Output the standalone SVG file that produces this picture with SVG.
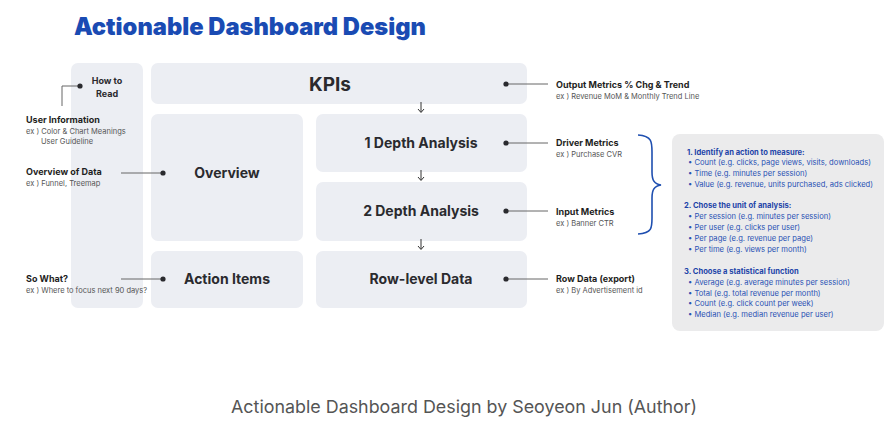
<svg xmlns="http://www.w3.org/2000/svg" width="896" height="422" viewBox="0 0 896 422">
<defs>
<style>
.box{fill:#eceef3}
.panel{fill:#ebebec}
.t{font-family:Inter,"Noto Sans",sans-serif;font-weight:700;fill:#2a2a2e;text-anchor:middle}
.lb{font-family:Inter,"Noto Sans",sans-serif;font-weight:700;fill:#1e1e22;font-size:9px}
.sb{font-family:Inter,"Noto Sans",sans-serif;fill:#555;font-size:7.5px}
.pb{font-family:Inter,"Noto Sans",sans-serif;font-weight:700;fill:#1d44a8;font-size:7.6px}
.pi{font-family:Inter,"Noto Sans",sans-serif;fill:#2a52b4;font-size:7.6px}
.ln{stroke:#666;stroke-width:1;fill:none}
.dot{fill:#2a2a2e}
.ar{stroke:#333;stroke-width:1;fill:none}
</style>
</defs>
<rect width="896" height="422" fill="#ffffff"/>
<text x="74" y="35" font-family="Inter,'Noto Sans',sans-serif" font-weight="900" font-size="24" fill="#1a4bb3" textLength="352" lengthAdjust="spacingAndGlyphs">Actionable Dashboard Design</text>

<g id="how-to-read">
<rect class="box" x="71" y="63" width="72" height="245" rx="7"/>
<text class="t" x="107" y="84" font-size="9">How to</text>
<text class="t" x="107" y="97" font-size="9">Read</text>
</g>
<g id="kpis">
<rect class="box" x="151" y="63" width="376" height="41" rx="7"/>
<text class="t" x="330" y="91" font-size="19">KPIs</text>
</g>
<g id="overview">
<rect class="box" x="151" y="114" width="152" height="127" rx="7"/>
<text class="t" x="227" y="178" font-size="14">Overview</text>
</g>
<g id="action-items">
<rect class="box" x="151" y="251" width="152" height="57" rx="7"/>
<text class="t" x="227" y="284" font-size="14">Action Items</text>
</g>
<g id="depth1">
<rect class="box" x="316" y="114" width="211" height="58" rx="7"/>
<text class="t" x="421" y="148" font-size="14">1 Depth Analysis</text>
</g>
<g id="depth2">
<rect class="box" x="316" y="182" width="211" height="59" rx="7"/>
<text class="t" x="421" y="216" font-size="14">2 Depth Analysis</text>
</g>
<g id="row-level">
<rect class="box" x="316" y="251" width="211" height="57" rx="7"/>
<text class="t" x="421" y="284" font-size="14">Row-level Data</text>
</g>

<g id="connectors">
<path class="ln" d="M80 86 H62 V106"/>
<path class="ln" d="M121 173 H163"/>
<path class="ln" d="M121 279 H163"/>
<path class="ln" d="M506 84 H548"/>
<path class="ln" d="M506 143 H548"/>
<path class="ln" d="M506 211 H548"/>
<path class="ln" d="M506 279 H548"/>
<circle class="dot" cx="80" cy="86" r="2.6"/>
<circle class="dot" cx="163" cy="173" r="2.6"/>
<circle class="dot" cx="163" cy="279" r="2.6"/>
<circle class="dot" cx="506" cy="84" r="2.6"/>
<circle class="dot" cx="506" cy="143" r="2.6"/>
<circle class="dot" cx="506" cy="211" r="2.6"/>
<circle class="dot" cx="506" cy="279" r="2.6"/>
<path class="ar" d="M421 102 V112 M418 109 L421 112.5 L424 109"/>
<path class="ar" d="M421 170 V180 M418 177 L421 180.5 L424 177"/>
<path class="ar" d="M421 239 V249 M418 246 L421 249.5 L424 246"/>
<path d="M638 135 C652 136 652 142 652 152 V172 C652 180 654 184 661 185 C654 186 652 190 652 198 V218 C652 228 652 233 638 234" fill="none" stroke="#1f4fb0" stroke-width="1.6"/>
</g>

<g id="left-labels">
<text class="lb" x="26" y="123">User Information</text>
<text class="sb" x="26" y="134">ex ) Color &amp; Chart Meanings</text>
<text class="sb" x="41" y="144">User Guideline</text>
<text class="lb" x="26" y="175">Overview of Data</text>
<text class="sb" x="26" y="186">ex ) Funnel, Treemap</text>
<text class="lb" x="26" y="282">So What?</text>
<text class="sb" x="26" y="293">ex ) Where to focus next 90 days?</text>
</g>
<g id="right-labels">
<text class="lb" x="556" y="88">Output Metrics % Chg &amp; Trend</text>
<text class="sb" x="556" y="99">ex ) Revenue MoM &amp; Monthly Trend Line</text>
<text class="lb" x="556" y="146">Driver Metrics</text>
<text class="sb" x="556" y="157">ex ) Purchase CVR</text>
<text class="lb" x="556" y="215">Input Metrics</text>
<text class="sb" x="556" y="226">ex ) Banner CTR</text>
<text class="lb" x="556" y="282">Row Data (export)</text>
<text class="sb" x="556" y="293">ex ) By Advertisement id</text>
</g>

<g id="metric-panel">
<rect class="panel" x="672" y="134" width="212" height="197" rx="8"/>
<text class="pb" x="687" y="155">1. Identify an action to measure:</text>
<text class="pi" x="688" y="165">•  Count (e.g. clicks, page views, visits, downloads)</text>
<text class="pi" x="688" y="176">•  Time (e.g. minutes per session)</text>
<text class="pi" x="688" y="187">•  Value (e.g. revenue, units purchased, ads clicked)</text>
<text class="pb" x="684" y="208">2. Chose the unit of analysis:</text>
<text class="pi" x="688" y="219">•  Per session (e.g. minutes per session)</text>
<text class="pi" x="688" y="230">•  Per user (e.g. clicks per user)</text>
<text class="pi" x="688" y="241">•  Per page (e.g. revenue per page)</text>
<text class="pi" x="688" y="252">•  Per time (e.g. views per month)</text>
<text class="pb" x="684" y="274">3. Choose a statistical function</text>
<text class="pi" x="688" y="285">•  Average (e.g. average minutes per session)</text>
<text class="pi" x="688" y="296">•  Total (e.g. total revenue per month)</text>
<text class="pi" x="688" y="306">•  Count (e.g. click count per week)</text>
<text class="pi" x="688" y="317">•  Median (e.g. median revenue per user)</text>
</g>

<text x="231" y="413" font-family="Inter,'Noto Sans',sans-serif" font-size="17.5" fill="#555" textLength="466" lengthAdjust="spacingAndGlyphs">Actionable Dashboard Design by Seoyeon Jun (Author)</text>
</svg>
